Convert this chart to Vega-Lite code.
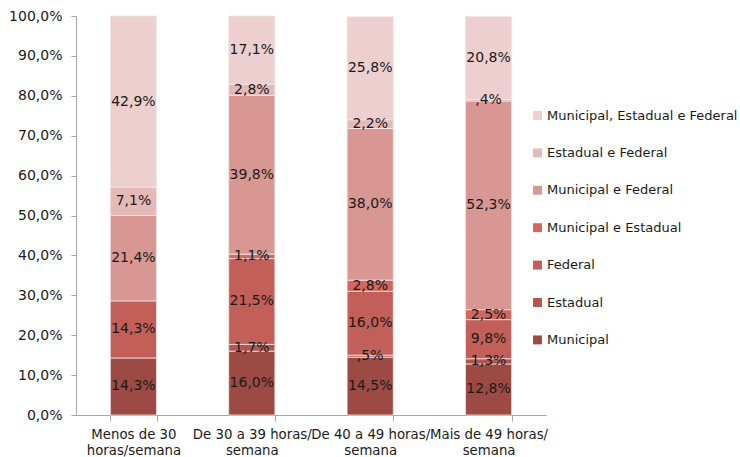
{
  "$schema": "https://vega.github.io/schema/vega-lite/v6.json",
  "width": 470,
  "height": 399,
  "autosize": {"type": "none"},
  "padding": {"left": 76, "top": 16, "right": 194, "bottom": 42},
  "background": "white",
  "config": {
    "view": {"stroke": null},
    "font": "DejaVu Sans",
    "axis": {"labelFont": "DejaVu Sans", "labelColor": "#1a1a1a", "labelFontSize": 14, "domainColor": "#a6a6a6", "tickColor": "#a6a6a6", "grid": false},
    "axisY": {"labelOverlap": false, "labelFlush": false, "tickSize": 5, "labelPadding": 9}
  },
  "data": {
    "values": [
      {"c": "Menos de 30 horas/semana", "s": "Municipal", "v": 14.3},
      {"c": "Menos de 30 horas/semana", "s": "Federal", "v": 14.3},
      {"c": "Menos de 30 horas/semana", "s": "Municipal e Federal", "v": 21.4},
      {"c": "Menos de 30 horas/semana", "s": "Estadual e Federal", "v": 7.1},
      {"c": "Menos de 30 horas/semana", "s": "Municipal, Estadual e Federal", "v": 42.9},
      {"c": "De 30 a 39 horas/semana", "s": "Municipal", "v": 16.0},
      {"c": "De 30 a 39 horas/semana", "s": "Estadual", "v": 1.7},
      {"c": "De 30 a 39 horas/semana", "s": "Federal", "v": 21.5},
      {"c": "De 30 a 39 horas/semana", "s": "Municipal e Estadual", "v": 1.1},
      {"c": "De 30 a 39 horas/semana", "s": "Municipal e Federal", "v": 39.8},
      {"c": "De 30 a 39 horas/semana", "s": "Estadual e Federal", "v": 2.8},
      {"c": "De 30 a 39 horas/semana", "s": "Municipal, Estadual e Federal", "v": 17.1},
      {"c": "De 40 a 49 horas/semana", "s": "Municipal", "v": 14.5},
      {"c": "De 40 a 49 horas/semana", "s": "Estadual", "v": 0.5},
      {"c": "De 40 a 49 horas/semana", "s": "Federal", "v": 16.0},
      {"c": "De 40 a 49 horas/semana", "s": "Municipal e Estadual", "v": 2.8},
      {"c": "De 40 a 49 horas/semana", "s": "Municipal e Federal", "v": 38.0},
      {"c": "De 40 a 49 horas/semana", "s": "Estadual e Federal", "v": 2.2},
      {"c": "De 40 a 49 horas/semana", "s": "Municipal, Estadual e Federal", "v": 25.8},
      {"c": "Mais de 49 horas/semana", "s": "Municipal", "v": 12.8},
      {"c": "Mais de 49 horas/semana", "s": "Estadual", "v": 1.3},
      {"c": "Mais de 49 horas/semana", "s": "Federal", "v": 9.8},
      {"c": "Mais de 49 horas/semana", "s": "Municipal e Estadual", "v": 2.5},
      {"c": "Mais de 49 horas/semana", "s": "Municipal e Federal", "v": 52.3},
      {"c": "Mais de 49 horas/semana", "s": "Estadual e Federal", "v": 0.4},
      {"c": "Mais de 49 horas/semana", "s": "Municipal, Estadual e Federal", "v": 20.8}
    ]
  },
  "transform": [
    {"calculate": "indexof(['Municipal','Estadual','Federal','Municipal e Estadual','Municipal e Federal','Estadual e Federal','Municipal, Estadual e Federal'], datum.s)", "as": "k"},
    {"stack": "v", "groupby": ["c"], "sort": [{"field": "k", "order": "ascending"}], "as": ["y0", "y1"]},
    {"calculate": "(datum.y0 + datum.y1) / 2", "as": "ym"},
    {"calculate": "(datum.v < 1 ? replace(format(datum.v, '.1f'), '0.', ',') : replace(format(datum.v, '.1f'), '.', ',')) + '%'", "as": "lbl"}
  ],
  "encoding": {
    "x": {
      "field": "c",
      "type": "nominal",
      "sort": ["Menos de 30 horas/semana", "De 30 a 39 horas/semana", "De 40 a 49 horas/semana", "Mais de 49 horas/semana"],
      "scale": {"paddingInner": 0.61, "paddingOuter": 0.29},
      "axis": {
        "title": null,
        "labelAngle": 0,
        "tickBand": "extent",
        "tickSize": 6,
        "labelPadding": 6,
        "labelLineHeight": 16,
        "labelFontSize": 13.3,
        "labelOverlap": false,
        "labelLimit": 200,
        "labelExpr": "!isValid(datum.value) ? '' : datum.value == 'Menos de 30 horas/semana' ? ['Menos de 30', 'horas/semana'] : [replace(datum.value, 'semana', ''), 'semana']"
      }
    }
  },
  "layer": [
    {
      "mark": {"type": "bar", "stroke": "#f3e6e6", "strokeWidth": 0.8},
      "encoding": {
        "y": {
          "field": "y0",
          "type": "quantitative",
          "scale": {"domain": [0, 100], "nice": false},
          "axis": {
            "title": null,
            "values": [0, 10, 20, 30, 40, 50, 60, 70, 80, 90, 100],
            "labelOverlap": false,
            "labelExpr": "replace(format(datum.value, '.1f'), '.', ',') + '%'"
          }
        },
        "y2": {"field": "y1"},
        "color": {
          "field": "s",
          "type": "nominal",
          "scale": {
            "domain": ["Municipal, Estadual e Federal", "Estadual e Federal", "Municipal e Federal", "Municipal e Estadual", "Federal", "Estadual", "Municipal"],
            "range": ["#edcfd0", "#e4b9b8", "#d99794", "#d2675f", "#c25f58", "#b1564f", "#9d4a44"]
          },
          "legend": {
            "title": null,
            "orient": "none",
            "legendX": 455,
            "legendY": 93,
            "symbolType": "square",
            "symbolSize": 80,
            "symbolStrokeWidth": 0,
            "labelFont": "DejaVu Sans",
            "labelFontSize": 13,
            "labelColor": "#1a1a1a",
            "labelOffset": 3,
            "rowPadding": 23.4,
            "labelLimit": 300
          }
        }
      }
    },
    {
      "mark": {"type": "text", "fontSize": 14, "color": "#1a1a1a", "baseline": "middle"},
      "encoding": {
        "y": {
          "field": "ym",
          "type": "quantitative",
          "axis": {
            "title": null,
            "values": [0, 10, 20, 30, 40, 50, 60, 70, 80, 90, 100],
            "labelOverlap": false,
            "labelExpr": "replace(format(datum.value, '.1f'), '.', ',') + '%'"
          }
        },
        "text": {"field": "lbl"}
      }
    }
  ]
}
